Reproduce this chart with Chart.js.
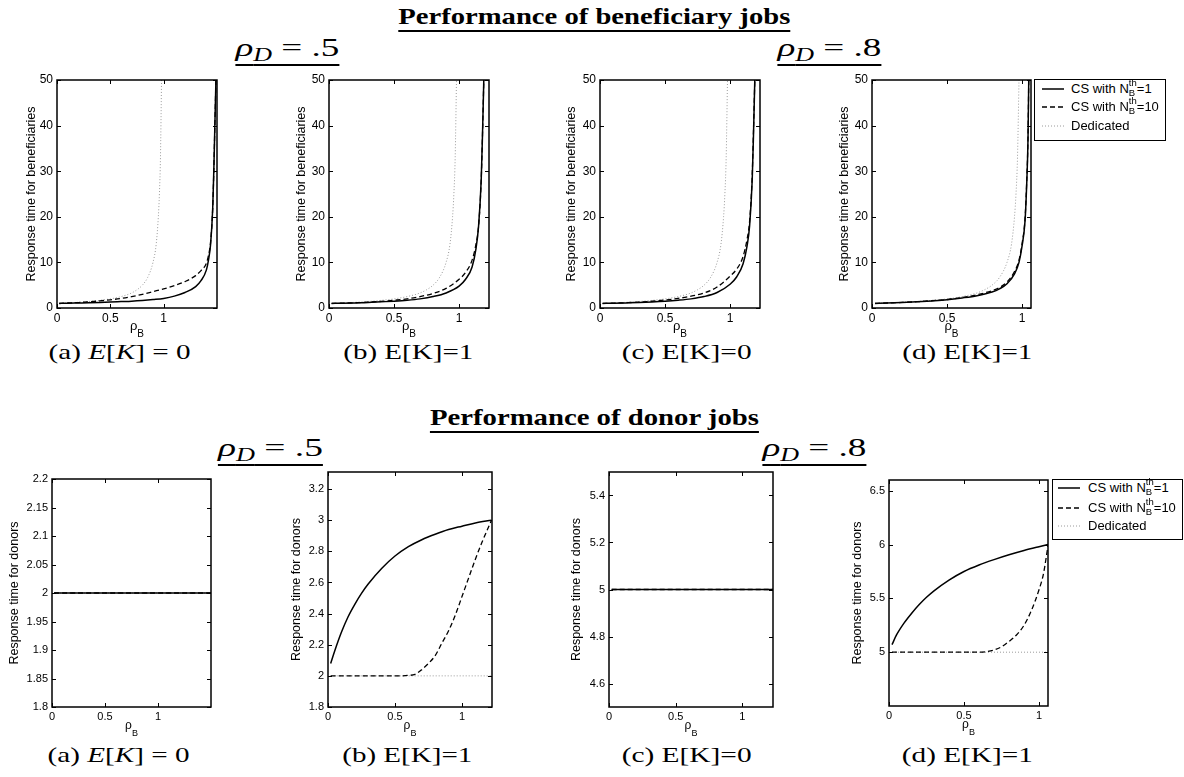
<!DOCTYPE html>
<html>
<head>
<meta charset="utf-8">
<title>Performance of beneficiary and donor jobs</title>
<script src="https://cdn.jsdelivr.net/npm/chart.js@4.4.1/dist/chart.umd.min.js"></script>
<style>
  body { margin: 0; background: #fff; }
  #page { position: relative; width: 1184px; height: 777px; overflow: hidden; background: #fff; }
  canvas { position: absolute; }
  .tx { position: absolute; display: inline-block; white-space: nowrap; line-height: 1; font-family: "Liberation Serif", "Times New Roman", serif; color: #000; transform-origin: center; }
  .head { font-size: 24px; font-weight: bold; text-decoration: underline; text-decoration-thickness: 2px; text-underline-offset: 6px; text-decoration-skip-ink: none; }
  .rho { font-size: 26px; text-decoration: underline; text-decoration-thickness: 2px; text-underline-offset: 8px; text-decoration-skip-ink: none; }
  .rho sub { font-size: 0.7em; vertical-align: -0.25em; line-height: 0; }
  .cap { font-size: 22px; }
  .legend { position: absolute; border: 1.5px solid #000; background: #fff; box-sizing: border-box; font-family: "Liberation Sans", Arial, sans-serif; font-size: 13px; color: #000; }
  .legend .row { position: absolute; left: 0; height: 14px; line-height: 14px; white-space: nowrap; }
  .legend svg { position: absolute; top: 5px; }
  .legend .lbl { position: absolute; }
  .ss { display: inline-block; position: relative; width: 8px; height: 1px; }
  .ss span { position: absolute; left: 0; font-size: 9.5px; line-height: 9px; }
</style>
</head>
<body>
<div id="page">
  <div class="tx head" id="h1">Performance of beneficiary jobs</div>
  <div class="tx head" id="h2">Performance of donor jobs</div>
  <div class="tx rho" id="r1"><i>ρ</i><sub><i>D</i></sub> = .5</div>
  <div class="tx rho" id="r2"><i>ρ</i><sub><i>D</i></sub> = .8</div>
  <div class="tx rho" id="r3"><i>ρ</i><sub><i>D</i></sub> = .5</div>
  <div class="tx rho" id="r4"><i>ρ</i><sub><i>D</i></sub> = .8</div>
  <div class="tx cap" id="c1">(a) <i>E</i>[<i>K</i>] = 0</div>
  <div class="tx cap" id="c2">(b) E[K]=1</div>
  <div class="tx cap" id="c3">(c) E[K]=0</div>
  <div class="tx cap" id="c4">(d) E[K]=1</div>
  <div class="tx cap" id="c5">(a) <i>E</i>[<i>K</i>] = 0</div>
  <div class="tx cap" id="c6">(b) E[K]=1</div>
  <div class="tx cap" id="c7">(c) E[K]=0</div>
  <div class="tx cap" id="c8">(d) E[K]=1</div>
</div>

<script>
// ---- values (x = rho_B) ----
const xTicks = [0, 0.5, 1];
const benTicks = [0, 10, 20, 30, 40, 50];
const donATicks = [1.8, 1.85, 1.9, 1.95, 2, 2.05, 2.1, 2.15, 2.2];
const donBTicks = [1.8, 2, 2.2, 2.4, 2.6, 2.8, 3, 3.2];
const donCTicks = [4.6, 4.8, 5, 5.2, 5.4];
const donDTicks = [5, 5.5, 6, 6.5];

const seriesNames = ['CS with N_B^th=1', 'CS with N_B^th=10', 'Dedicated'];

// dedicated system, beneficiary jobs (same curve in the four top panels)
const dedX = [0.02, 0.1, 0.2, 0.3, 0.4, 0.5, 0.6, 0.7, 0.75, 0.8, 0.85, 0.9, 0.93, 0.95, 0.96, 0.97, 0.98];
const dedY = [1.0, 1.1, 1.25, 1.43, 1.67, 2.0, 2.5, 3.3, 4.0, 5.0, 6.7, 10, 14, 20, 25, 33, 50];

// beneficiaries, rho_D=.5, E[K]=0
const benAx = [0.02, 0.1, 0.2, 0.3, 0.4, 0.5, 0.6, 0.7, 0.8, 0.9, 1.0, 1.1, 1.2, 1.3, 1.35, 1.4, 1.42, 1.44, 1.46, 1.47, 1.48, 1.49];
const benAcs1 = [1.0, 1.05, 1.1, 1.15, 1.22, 1.3, 1.4, 1.5, 1.65, 1.85, 2.1, 2.6, 3.4, 4.7, 6.0, 8.3, 10.5, 14, 22, 30, 40, 50];
const benAcs10 = [1.0, 1.1, 1.2, 1.35, 1.55, 1.8, 2.1, 2.5, 3.0, 3.6, 4.2, 4.9, 5.8, 7.1, 8.2, 9.8, 11.5, 14.5, 22, 30, 40, 50];

// beneficiaries, rho_D=.5, E[K]=1
const benBx = [0.02, 0.1, 0.2, 0.3, 0.4, 0.5, 0.6, 0.7, 0.8, 0.9, 1.0, 1.05, 1.1, 1.13, 1.15, 1.17, 1.18, 1.19];
const benBcs1 = [1.0, 1.05, 1.12, 1.2, 1.35, 1.5, 1.7, 2.0, 2.5, 3.3, 4.8, 6.3, 9, 13, 18, 28, 38, 50];
const benBcs10 = [1.0, 1.06, 1.15, 1.27, 1.45, 1.7, 2.0, 2.5, 3.2, 4.3, 6.3, 7.8, 10.5, 14, 18, 28, 38, 50];

// beneficiaries, rho_D=.8, E[K]=0
const benCx = [0.02, 0.1, 0.2, 0.3, 0.4, 0.5, 0.6, 0.7, 0.8, 0.9, 1.0, 1.05, 1.1, 1.13, 1.15, 1.17, 1.18, 1.19];
const benCcs1 = [1.0, 1.05, 1.12, 1.2, 1.32, 1.48, 1.7, 2.0, 2.5, 3.4, 5.2, 6.8, 9.7, 13.5, 18, 28, 38, 50];
const benCcs10 = [1.0, 1.07, 1.16, 1.28, 1.48, 1.75, 2.1, 2.6, 3.3, 4.6, 7.0, 8.5, 11.3, 15, 19, 29, 39, 50];

// beneficiaries, rho_D=.8, E[K]=1
const benDx = [0.02, 0.1, 0.2, 0.3, 0.4, 0.5, 0.6, 0.7, 0.8, 0.85, 0.9, 0.95, 0.98, 1.0, 1.02, 1.03, 1.04, 1.045];
const benDcs1 = [1.0, 1.08, 1.2, 1.35, 1.55, 1.8, 2.2, 2.7, 3.5, 4.2, 5.3, 7.5, 10, 13.5, 19, 26, 37, 50];
const benDcs10 = [1.0, 1.1, 1.22, 1.38, 1.6, 1.85, 2.3, 2.9, 3.8, 4.5, 5.7, 8, 10.5, 14, 19.5, 26.5, 37.5, 50];

// donors, rho_D=.5, E[K]=0 (all three equal 2)
const donAx = [0.02, 1.5];
const donAcs1 = [2, 2];
const donAcs10 = [2, 2];
const donAded = [2, 2];

// donors, rho_D=.5, E[K]=1
const donBx1 = [0.02, 0.05, 0.1, 0.15, 0.2, 0.25, 0.3, 0.4, 0.5, 0.6, 0.7, 0.8, 0.9, 1.0, 1.1, 1.22];
const donBcs1 = [2.08, 2.16, 2.28, 2.38, 2.46, 2.53, 2.59, 2.69, 2.77, 2.83, 2.875, 2.91, 2.94, 2.962, 2.983, 3.0];
const donBx10 = [0.02, 0.2, 0.4, 0.5, 0.6, 0.65, 0.7, 0.75, 0.8, 0.85, 0.9, 0.95, 1.0, 1.05, 1.1, 1.15, 1.22];
const donBcs10 = [2.0, 2.0, 2.0, 2.0, 2.003, 2.01, 2.04, 2.08, 2.13, 2.21, 2.29, 2.39, 2.51, 2.63, 2.75, 2.86, 3.0];
const donBdx = [0.02, 1.23];
const donBded = [2, 2];

// donors, rho_D=.8, E[K]=0 (all three equal 5)
const donCx = [0.02, 1.23];
const donCcs1 = [5, 5];
const donCcs10 = [5, 5];
const donCded = [5, 5];

// donors, rho_D=.8, E[K]=1
const donDx1 = [0.02, 0.05, 0.1, 0.15, 0.2, 0.25, 0.3, 0.4, 0.5, 0.6, 0.7, 0.8, 0.9, 1.0, 1.06];
const donDcs1 = [5.07, 5.16, 5.27, 5.36, 5.44, 5.51, 5.57, 5.67, 5.75, 5.81, 5.86, 5.905, 5.945, 5.98, 6.0];
const donDx10 = [0.02, 0.2, 0.4, 0.6, 0.65, 0.7, 0.75, 0.8, 0.85, 0.9, 0.95, 1.0, 1.03, 1.06];
const donDcs10 = [5.0, 5.0, 5.0, 5.0, 5.005, 5.02, 5.05, 5.1, 5.16, 5.25, 5.39, 5.58, 5.73, 5.99];
const donDdx = [0.02, 1.06];
const donDded = [5, 5];

// ---- layout of the eight axes ----
const benLabel = 'Response time for beneficiaries';
const donLabel = 'Response time for donors';
const panels = [
  { L: 57,  T: 80,  W: 160, H: 228, yw: 36, xmax: 1.5,  ymin: 0,   ymax: 50,  yTicks: benTicks,  fs: 12, ylab: benLabel,
    lines: [[benAx, benAcs1], [benAx, benAcs10], [dedX, dedY]] },
  { L: 329, T: 80,  W: 160, H: 228, yw: 38, xmax: 1.23, ymin: 0,   ymax: 50,  yTicks: benTicks,  fs: 12, ylab: benLabel,
    lines: [[benBx, benBcs1], [benBx, benBcs10], [dedX, dedY]] },
  { L: 600, T: 80,  W: 160, H: 228, yw: 39, xmax: 1.23, ymin: 0,   ymax: 50,  yTicks: benTicks,  fs: 12, ylab: benLabel,
    lines: [[benCx, benCcs1], [benCx, benCcs10], [dedX, dedY]] },
  { L: 872, T: 80,  W: 159, H: 228, yw: 38, xmax: 1.06, ymin: 0,   ymax: 50,  yTicks: benTicks,  fs: 12, ylab: benLabel,
    lines: [[benDx, benDcs1], [benDx, benDcs10], [dedX, dedY]] },
  { L: 52,  T: 479, W: 159, H: 228, yw: 48, xmax: 1.5,  ymin: 1.8, ymax: 2.2, yTicks: donATicks, fs: 11, ylab: donLabel,
    lines: [[donAx, donAcs1], [donAx, donAcs10], [donAx, donAded]] },
  { L: 328, T: 472, W: 164, H: 235, yw: 42, xmax: 1.224, ymin: 1.8, ymax: 3.31, yTicks: donBTicks, fs: 11, ylab: donLabel,
    lines: [[donBx1, donBcs1], [donBx10, donBcs10], [donBdx, donBded]] },
  { L: 609, T: 472, W: 164, H: 235, yw: 43, xmax: 1.23, ymin: 4.5, ymax: 5.5, yTicks: donCTicks, fs: 11, ylab: donLabel,
    lines: [[donCx, donCcs1], [donCx, donCcs10], [donCx, donCded]] },
  { L: 889, T: 480, W: 159, H: 226, yw: 42, xmax: 1.06, ymin: 4.5, ymax: 6.6, yTicks: donDTicks, fs: 11, ylab: donLabel,
    lines: [[donDx1, donDcs1], [donDx10, donDcs10], [donDdx, donDded]] }
];

const lineStyles = [
  { borderColor: '#000', borderWidth: 1.5, borderDash: [] },
  { borderColor: '#000', borderWidth: 1.3, borderDash: [5, 3] },
  { borderColor: '#9a9a9a', borderWidth: 1, borderDash: [1, 2] }
];

const sans = '"Liberation Sans", Arial, sans-serif';

// box, inward ticks on all four sides, and the rho_B axis label
const framePlugin = {
  id: 'frame',
  afterDraw(chart, args, opts) {
    const { ctx, chartArea: a, scales: { x, y } } = chart;
    const tk = 4;
    ctx.save();
    ctx.strokeStyle = '#000';
    ctx.lineWidth = 1;
    ctx.beginPath();
    x.ticks.forEach(t => {
      const px = Math.round(x.getPixelForValue(t.value)) + 0.5;
      ctx.moveTo(px, a.bottom); ctx.lineTo(px, a.bottom - tk);
      ctx.moveTo(px, a.top); ctx.lineTo(px, a.top + tk);
    });
    y.ticks.forEach(t => {
      const py = Math.round(y.getPixelForValue(t.value)) + 0.5;
      ctx.moveTo(a.left, py); ctx.lineTo(a.left + tk, py);
      ctx.moveTo(a.right, py); ctx.lineTo(a.right - tk, py);
    });
    ctx.stroke();
    ctx.lineWidth = 1.5;
    ctx.strokeRect(a.left, a.top, a.right - a.left, a.bottom - a.top);

    ctx.fillStyle = '#000';
    ctx.textBaseline = 'alphabetic';
    ctx.textAlign = 'left';
    const f1 = (opts.fontSize + 1) + 'px ' + sans;
    const f2 = Math.round(opts.fontSize * 0.8) + 'px ' + sans;
    ctx.font = f1;
    const wr = ctx.measureText('ρ').width;
    ctx.font = f2;
    const wb = ctx.measureText('B').width;
    const x0 = (a.left + a.right) / 2 - (wr + wb) / 2;
    ctx.font = f1;
    ctx.fillText('ρ', x0, a.bottom + 22);
    ctx.font = f2;
    ctx.fillText('B', x0 + wr, a.bottom + 29);
    ctx.restore();
  }
};

const page = document.getElementById('page');
const PT = 12, PR = 6, XH = 40;

panels.forEach(p => {
  const cv = document.createElement('canvas');
  cv.width = p.yw + p.W + PR;
  cv.height = PT + p.H + XH;
  cv.style.left = (p.L - p.yw) + 'px';
  cv.style.top = (p.T - PT) + 'px';
  page.appendChild(cv);

  const datasets = p.lines.map((ln, i) => Object.assign({
    label: seriesNames[i],
    data: ln[0].map((x, k) => ({ x: x, y: ln[1][k] })),
    showLine: true,
    pointRadius: 0,
    cubicInterpolationMode: 'monotone',
    fill: false
  }, lineStyles[i]));

  new Chart(cv.getContext('2d'), {
    type: 'scatter',
    data: { datasets: datasets },
    options: {
      responsive: false,
      animation: false,
      devicePixelRatio: 1,
      layout: { padding: { left: 0, top: PT, right: PR, bottom: 0 } },
      plugins: {
        legend: { display: false },
        tooltip: { enabled: false },
        frame: { fontSize: p.fs }
      },
      scales: {
        x: {
          type: 'linear', min: 0, max: p.xmax,
          grid: { display: false, drawTicks: false },
          border: { display: false },
          ticks: { color: '#000', font: { family: sans, size: p.fs }, padding: 3, autoSkip: false, maxRotation: 0,
                   callback: v => String(v) },
          afterBuildTicks: s => { s.ticks = xTicks.map(v => ({ value: v })); },
          afterFit: s => { s.height = XH; }
        },
        y: {
          type: 'linear', min: p.ymin, max: p.ymax,
          grid: { display: false, drawTicks: false },
          border: { display: false },
          ticks: { color: '#000', font: { family: sans, size: p.fs }, padding: 4, autoSkip: false,
                   callback: v => String(v) },
          afterBuildTicks: s => { s.ticks = p.yTicks.map(v => ({ value: v })); },
          afterFit: s => { s.width = p.yw; },
          title: { display: true, text: p.ylab, color: '#000', font: { family: sans, size: 12.5 }, padding: { top: 3, bottom: 0 } }
        }
      }
    },
    plugins: [framePlugin]
  });
});

// legends (one per row), built as HTML
function legendBox(left, top, width, height, rows, lineX, textX) {
  const box = document.createElement('div');
  box.className = 'legend';
  Object.assign(box.style, { left: left + 'px', top: top + 'px', width: width + 'px', height: height + 'px' });
  const labels = [
    'CS with N<span class="ss"><span style="top:-14px">th</span><span style="top:-4px">B</span></span>=1',
    'CS with N<span class="ss"><span style="top:-14px">th</span><span style="top:-4px">B</span></span>=10',
    'Dedicated'
  ];
  labels.forEach((html, i) => {
    const st = lineStyles[i];
    const row = document.createElement('div');
    row.className = 'row';
    row.style.top = (rows[i] - 7) + 'px';
    row.style.width = '100%';
    row.innerHTML =
      '<svg width="22" height="4" style="left:' + lineX + 'px"><line x1="0" y1="2" x2="22" y2="2" stroke="' + st.borderColor +
      '" stroke-width="' + st.borderWidth + '" stroke-dasharray="' + (st.borderDash.join(',') || 'none') + '"/></svg>' +
      '<span class="lbl" style="left:' + textX + 'px">' + html + '</span>';
    box.appendChild(row);
  });
  page.appendChild(box);
}
legendBox(1034, 79, 132, 62, [9, 27, 46], 7, 36);
legendBox(1052, 479, 131, 61, [8, 28, 46], 5, 35);

// place a text element by centre x and baseline y, stretched to a target width
function place(id, cx, base, w) {
  const el = document.getElementById(id);
  const fs = parseFloat(getComputedStyle(el).fontSize);
  const nat = el.getBoundingClientRect().width;
  el.style.left = (cx - nat / 2) + 'px';
  el.style.top = (base - 0.8375 * fs) + 'px';
  el.style.transform = 'scaleX(' + (w / nat) + ')';
}
place('h1', 594, 24, 392);
place('h2', 594, 425, 329);
place('r1', 287, 57, 104);
place('r2', 829, 57, 104);
place('r3', 270, 457, 105);
place('r4', 814, 457, 104);
place('c1', 120, 359, 142);
place('c2', 408, 359, 130);
place('c3', 687, 359, 130);
place('c4', 967, 359, 130);
place('c5', 119, 762, 142);
place('c6', 407, 762, 130);
place('c7', 687, 762, 130);
place('c8', 967, 762, 131);
</script>
</body>
</html>
